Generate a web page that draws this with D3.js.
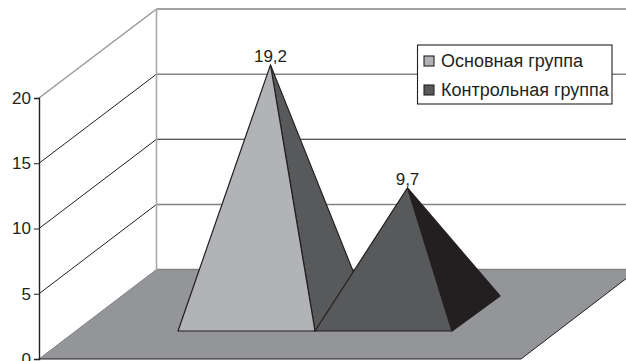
<!DOCTYPE html>
<html lang="ru">
<head>
<meta charset="utf-8">
<script src="https://cdn.jsdelivr.net/npm/d3@7"></script>
<style>
html,body{margin:0;padding:0;background:#fff;overflow:hidden}
svg{display:block}
text{font-family:"Liberation Sans",Arial,sans-serif;fill:#231f20}
</style>
</head>
<body>
<svg id="chart" width="626" height="361"></svg>
<script>
// Chart data
const groups = ["Основная группа", "Контрольная группа"];
const values = [19.2, 9.7];
const valueLabels = ["19,2", "9,7"];
const axisTicks = [0, 5, 10, 15, 20];

// Palette: front face and side face of each pyramid
const frontColors = ["#b1b3b6", "#58595b"];
const sideColors = ["#58595b", "#231f20"];
const floorColor = "#939598";
const darkLine = "#231f20";
const greyLine = "#939598";

const svg = d3.select("#chart");

// Oblique projection: front axis, back wall and floor geometry
const frontX = 39, backX = 156.5, rightX = 638;
const yFront = d3.scaleLinear().domain([0, 20]).range([359, 98]);
const yBack = d3.scaleLinear().domain([0, 20]).range([269.5, 9]);
const rise = d3.scaleLinear().domain([0, 20]).range([0, 259]);
const floorFrontRight = 521;

// Pyramids stand side by side on the floor
const band = d3.scaleBand().domain(groups).range([178, 452]).padding(0);
const baseY = 331, depthX = 48, depthY = -35;

// Floor
svg.append("polygon")
  .attr("points", [[frontX, yFront(0)], [backX, yBack(0)], [rightX, yBack(0)], [floorFrontRight, yFront(0)]].join(" "))
  .attr("fill", floorColor);
svg.append("line")
  .attr("x1", rightX).attr("y1", yBack(0)).attr("x2", floorFrontRight).attr("y2", yFront(0))
  .attr("stroke", darkLine).attr("stroke-width", 1);

// Back wall gridlines and their diagonals along the side wall
const wallStyle = d => d === 10
  ? { stroke: darkLine, width: 1.1 }
  : { stroke: "#808285", width: d === 20 ? 1.7 : 1.5 };
svg.append("g").selectAll("line").data(axisTicks).join("line")
  .attr("x1", backX).attr("x2", 626)
  .attr("y1", d => yBack(d)).attr("y2", d => yBack(d))
  .attr("stroke", d => wallStyle(d).stroke)
  .attr("stroke-width", d => wallStyle(d).width);
svg.append("g").selectAll("line").data(axisTicks).join("line")
  .attr("x1", frontX).attr("x2", backX)
  .attr("y1", d => yFront(d)).attr("y2", d => yBack(d))
  .attr("stroke", d => (d === 20 ? greyLine : d === 0 ? "#808285" : darkLine))
  .attr("stroke-width", d => (d === 20 ? 1.4 : 1));
svg.append("line")
  .attr("x1", backX).attr("x2", backX).attr("y1", yBack(0)).attr("y2", yBack(20))
  .attr("stroke", "#a7a9ac").attr("stroke-width", 1.6);

// Front edge of the floor
svg.append("line")
  .attr("x1", frontX).attr("x2", floorFrontRight)
  .attr("y1", yFront(0)).attr("y2", yFront(0))
  .attr("stroke", darkLine).attr("stroke-width", 1.2);

// Pyramids
const pyramids = svg.append("g").selectAll("g")
  .data(groups.map((g, i) => ({ group: g, value: values[i], label: valueLabels[i], i })))
  .join("g");

const geom = d => {
  const x0 = band(d.group), x1 = x0 + band.bandwidth();
  const apex = [
    (x0 + x1) / 2 + depthX / 2,
    baseY + depthY / 2 - rise(d.value)
  ];
  return { x0, x1, apex, backRight: [x1 + depthX, baseY + depthY] };
};

pyramids.append("polygon")
  .attr("points", d => { const g = geom(d); return [[g.x1, baseY], g.backRight, g.apex].join(" "); })
  .attr("fill", d => sideColors[d.i])
  .attr("stroke", darkLine).attr("stroke-width", 1.2).attr("stroke-linejoin", "round");
pyramids.append("polygon")
  .attr("points", d => { const g = geom(d); return [[g.x0, baseY], [g.x1, baseY], g.apex].join(" "); })
  .attr("fill", d => frontColors[d.i])
  .attr("stroke", darkLine).attr("stroke-width", 1.2).attr("stroke-linejoin", "round");
pyramids.append("text")
  .attr("x", d => geom(d).apex[0])
  .attr("y", d => geom(d).apex[1] - 3)
  .attr("text-anchor", "middle")
  .attr("font-size", 17)
  .text(d => d.label);

// Value axis on the front corner
const axis = svg.append("g")
  .attr("transform", `translate(${frontX},0)`)
  .call(d3.axisLeft(yFront).tickValues(axisTicks).tickSize(5).tickPadding(3).tickFormat(d3.format("d")));
axis.select(".domain").attr("stroke", darkLine).attr("stroke-width", 1.4);
axis.selectAll(".tick line").attr("stroke", darkLine).attr("stroke-width", 1);
axis.selectAll(".tick text")
  .attr("font-family", '"Liberation Sans",Arial,sans-serif')
  .attr("font-size", 17)
  .attr("fill", darkLine);

// Legend
const legendX = 417.5, legendY = 45, legendW = 194.5, legendH = 59;
svg.append("rect")
  .attr("x", legendX).attr("y", legendY).attr("width", legendW).attr("height", legendH)
  .attr("fill", "#fff").attr("stroke", darkLine).attr("stroke-width", 1.1);
const legendRow = d3.scalePoint().domain(groups).range([61, 90]);
const legend = svg.append("g").selectAll("g").data(groups).join("g")
  .attr("transform", d => `translate(0,${legendRow(d)})`);
legend.append("rect")
  .attr("x", 424).attr("y", -5).attr("width", 10).attr("height", 10)
  .attr("fill", (d, i) => frontColors[i])
  .attr("stroke", darkLine).attr("stroke-width", 1.1);
legend.append("text")
  .attr("x", 441).attr("y", 5.5)
  .attr("font-size", 18)
  .text(d => d);
</script>
</body>
</html>
